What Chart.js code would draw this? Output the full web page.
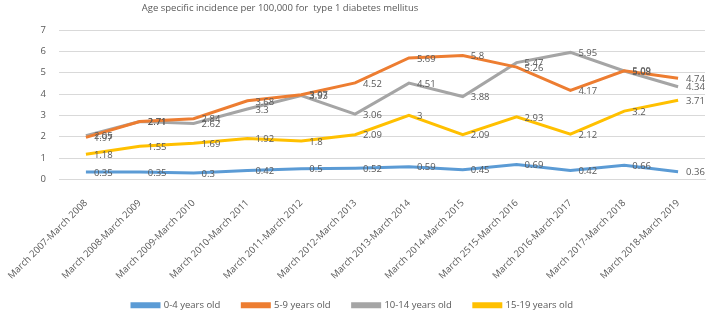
<!DOCTYPE html>
<html><head><meta charset="utf-8">
<script src="https://cdn.jsdelivr.net/npm/chart.js@4/dist/chart.umd.min.js"></script>
<style>html,body{margin:0;padding:0;background:#fff;}canvas{display:block;}</style>
</head><body>
<canvas id="c" width="709" height="312"></canvas>
<script>
const titleText = "Age specific incidence per 100,000 for  type 1 diabetes mellitus";
const categories = ["March 2007-March 2008","March 2008-March 2009","March 2009-March 2010","March 2010-March 2011","March 2011-March 2012","March 2012-March 2013","March 2013-March 2014","March 2014-March 2015","March 2515-March 2016","March 2016-March 2017","March 2017-March 2018","March 2018-March 2019"];
const age0to4 = [0.35,0.35,0.3,0.42,0.5,0.52,0.59,0.45,0.69,0.42,0.66,0.36];
const age5to9 = [1.97,2.71,2.84,3.68,3.97,4.52,5.69,5.8,5.26,4.17,5.09,4.74];
const age10to14 = [2.05,2.71,2.62,3.3,3.93,3.06,4.51,3.88,5.47,5.95,5.08,4.34];
const age15to19 = [1.18,1.55,1.69,1.92,1.8,2.09,3,2.09,2.93,2.12,3.2,3.71];
const seriesNames = ["0-4 years old","5-9 years old","10-14 years old","15-19 years old"];
const yTicks = [0,1,2,3,4,5,6,7];

const FONT = "'Open Sans', sans-serif";
const FS = 9.5;
const TXT = '#595959';
const colors = ['#5B9BD5','#ED7D31','#A5A5A5','#FFC000'];
const seriesData = [age0to4, age5to9, age10to14, age15to19];

const titlePlugin = {
  id: 'topTitle',
  afterDraw(chart) {
    const ctx = chart.ctx;
    ctx.save();
    ctx.font = FS + "px " + FONT;
    ctx.fillStyle = TXT;
    ctx.textAlign = 'center';
    ctx.textBaseline = 'middle';
    ctx.fillText(titleText, 280, 8);
    ctx.restore();
  }
};
const valueLabels = {
  id: 'valueLabels',
  afterDatasetsDraw(chart) {
    const ctx = chart.ctx;
    ctx.save();
    ctx.font = FS + "px " + FONT;
    ctx.fillStyle = TXT;
    ctx.textAlign = 'left';
    ctx.textBaseline = 'middle';
    chart.data.datasets.forEach((ds, i) => {
      const meta = chart.getDatasetMeta(i);
      meta.data.forEach((pt, j) => {
        ctx.fillText(String(ds.data[j]), pt.x + 8, pt.y + 1);
      });
    });
    ctx.restore();
  }
};

new Chart(document.getElementById('c'), {
  type: 'line',
  data: {
    labels: categories,
    datasets: seriesNames.map((n, i) => ({
      label: n,
      data: seriesData[i],
      borderColor: colors[i],
      backgroundColor: colors[i],
      borderWidth: 3,
      pointRadius: 0,
      tension: 0,
      fill: false
    }))
  },
  options: {
    responsive: false,
    animation: false,
    layout: { padding: { top: 30, left: 0, right: 4, bottom: -8 } },
    plugins: {
      legend: {
        position: 'bottom',
        labels: { boxWidth: 27, boxHeight: 3, color: TXT, font: { family: FONT, size: FS }, padding: 22 }
      },
      tooltip: { enabled: false },
      title: { display: false }
    },
    scales: {
      x: {
        offset: true,
        grid: { display: false, drawTicks: false, offset: true },
        border: { color: '#D9D9D9' },
        ticks: { color: TXT, font: { family: FONT, size: 9.5 }, maxRotation: 45, minRotation: 45, autoSkip: false, padding: 18 },
        afterFit(axis) { axis.paddingLeft = 0; axis.paddingRight = 0; axis.height -= 21; }
      },
      y: {
        min: 0, max: 7,
        afterBuildTicks(axis) { axis.ticks = yTicks.map(v => ({ value: v })); },
        afterFit(axis) { axis.width = 59; },
        grid: { color: '#D9D9D9', drawTicks: false },
        border: { display: false },
        ticks: { color: TXT, font: { family: FONT, size: FS }, padding: 13 }
      }
    }
  },
  plugins: [titlePlugin, valueLabels]
});
</script>
</body></html>
